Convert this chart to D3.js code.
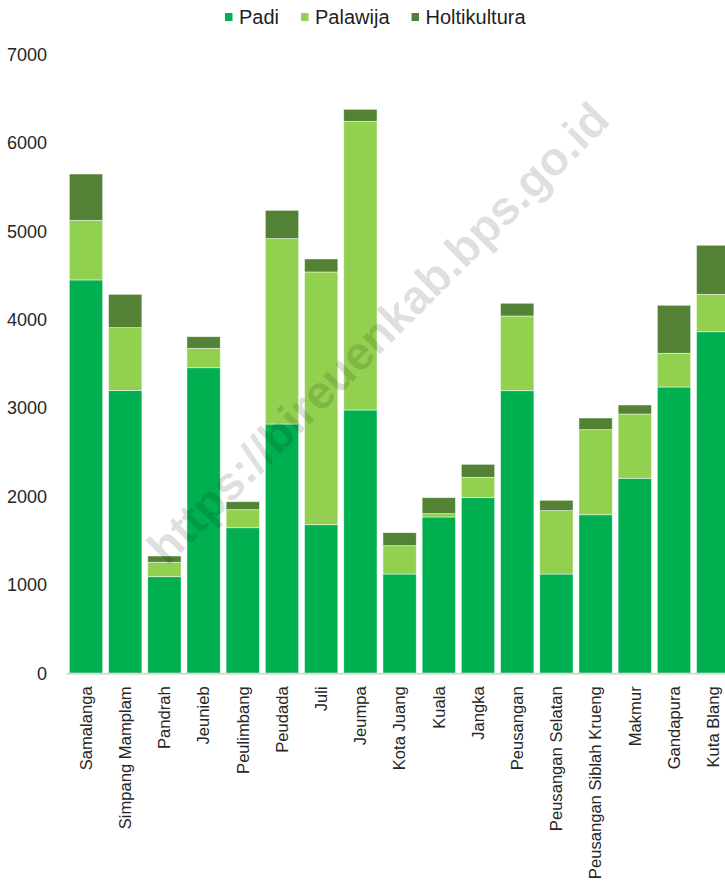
<!DOCTYPE html>
<html>
<head>
<meta charset="utf-8">
<script src="https://cdn.jsdelivr.net/npm/d3@7"></script>
<style>
    body { margin: 0; background: #fff; }
    text { font-family: "Liberation Sans", Arial, sans-serif; }
</style>
</head>
<body>
<div id="chart"></div>
<script>
const kecamatan = ["Samalanga", "Simpang Mamplam", "Pandrah", "Jeunieb", "Peulimbang", "Peudada", "Juli", "Jeumpa",
    "Kota Juang", "Kuala", "Jangka", "Peusangan", "Peusangan Selatan", "Peusangan Siblah Krueng", "Makmur", "Gandapura", "Kuta Blang"];
const padi = [4450, 3200, 1093, 3457, 1647, 2820, 1681, 2979, 1123, 1768, 1987, 3197, 1123, 1794, 2206, 3239, 3864];
const palawija = [674, 710, 163, 219, 204, 2097, 2859, 3265, 321, 38, 230, 845, 717, 962, 727, 381, 423];
const holtikultura = [524, 377, 71, 132, 90, 320, 147, 136, 147, 181, 147, 144, 117, 132, 102, 543, 555];
const seriesNames = ["Padi", "Palawija", "Holtikultura"];
const yTicks = [0, 1000, 2000, 3000, 4000, 5000, 6000, 7000];

const width = 725;
const height = 884;
const marginTop = 54.5;
const marginLeft = 66.4;
const plotRight = 732.8;   // the last bar runs off the right edge
const plotBottom = 673.3;

const colors = d3.scaleOrdinal(seriesNames, ["#00b050", "#92d050", "#548235"]);

const table = kecamatan.map((k, i) => ({
    name: k,
    Padi: padi[i],
    Palawija: palawija[i],
    Holtikultura: holtikultura[i]
}));
const stacked = d3.stack().keys(seriesNames)(table);

const svg = d3.select("#chart")
    .append("svg")
    .attr("width", width)
    .attr("height", height)
    .attr("viewBox", [0, 0, width, height]);

const x = d3.scaleBand(kecamatan, [marginLeft, plotRight])
    .paddingInner(0.15)
    .paddingOuter(0.075);
const y = d3.scaleLinear([0, 7000], [plotBottom, marginTop]);

// y axis labels only, no line
svg.append("g")
    .attr("transform", `translate(47,0)`)
    .call(d3.axisLeft(y).tickValues(yTicks).tickFormat(d3.format("d")).tickSize(0).tickPadding(0))
    .call(g => g.select(".domain").remove())
    .call(g => g.selectAll("text")
        .attr("font-size", 18)
        .attr("font-family", "Liberation Sans, Arial, sans-serif")
        .attr("fill", "#262626"));

svg.append("g")
    .selectAll("g")
    .data(stacked)
    .join("g")
    .attr("fill", d => colors(d.key))
    .selectAll("rect")
    .data(d => d)
    .join("rect")
    .attr("x", d => x(d.data.name))
    .attr("y", d => y(d[1]))
    .attr("height", d => y(d[0]) - y(d[1]))
    .attr("width", x.bandwidth())
    .attr("stroke", "#ffffff")
    .attr("stroke-opacity", 0.6)
    .attr("stroke-width", 0.8);

// x axis
svg.append("g")
    .attr("transform", `translate(0,${plotBottom})`)
    .call(d3.axisBottom(x).tickSize(0).tickPadding(0))
    .call(g => g.select(".domain")
        .attr("d", `M${marginLeft},0.5H${width}`)
        .attr("stroke", "#d9d9d9")
        .attr("stroke-width", 2))
    .call(g => g.selectAll("text")
        .attr("font-size", 16.6)
        .attr("font-family", "Liberation Sans, Arial, sans-serif")
        .attr("fill", "#262626")
        .attr("text-anchor", "end")
        .attr("transform", "rotate(-90)")
        .attr("x", -13)
        .attr("y", 0)
        .attr("dy", "0.35em"));

// legend
const legend = svg.append("g").attr("transform", "translate(225,0)");
let lx = 0;
seriesNames.forEach(s => {
    legend.append("rect")
        .attr("x", lx)
        .attr("y", 13)
        .attr("width", 7.5)
        .attr("height", 8)
        .attr("fill", colors(s));
    const t = legend.append("text")
        .attr("x", lx + 14)
        .attr("y", 24)
        .attr("font-size", 20)
        .attr("fill", "#1f1f1f")
        .text(s);
    lx += 14 + t.node().getComputedTextLength() + 22;
});

// watermark
svg.append("text")
    .attr("transform", "translate(378,333) rotate(-45)")
    .attr("text-anchor", "middle")
    .attr("dy", "0.35em")
    .attr("font-size", 47)
    .attr("font-weight", "bold")
    .attr("fill", "#000")
    .attr("fill-opacity", 0.13)
    .text("https://bireuenkab.bps.go.id");
</script>
</body>
</html>
